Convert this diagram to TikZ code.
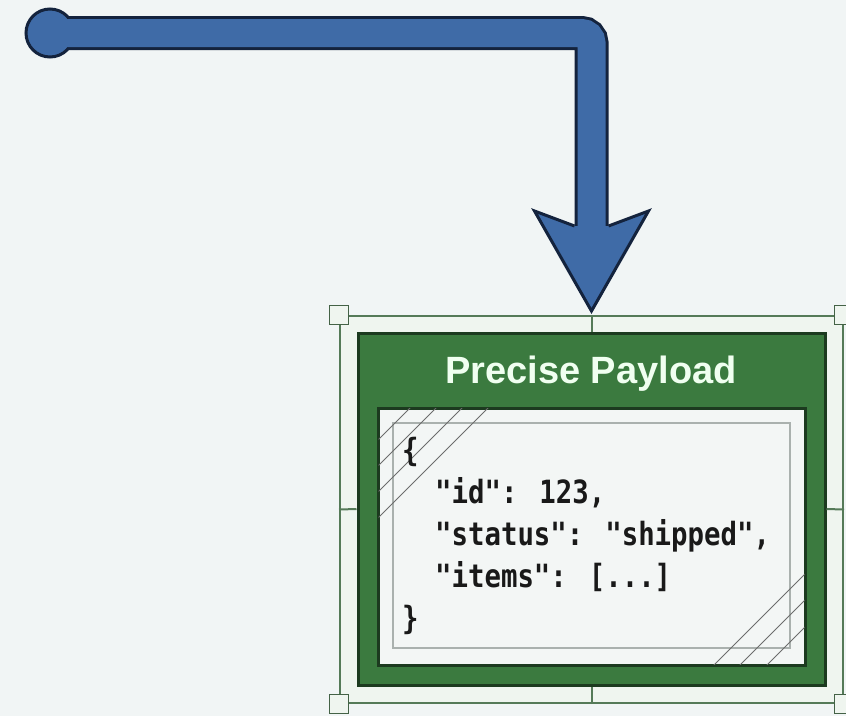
\documentclass[tikz,border=0pt]{standalone}
\usepackage{fontspec}
\setmainfont{Liberation Sans}
\newfontfamily\codefont[FakeStretch=0.855]{DejaVu Sans Mono}
\usepackage{xcolor}
\usetikzlibrary{positioning, calc}

\definecolor{bgcol}{HTML}{F1F5F5}
\definecolor{pipeblue}{HTML}{3F6BA7}
\definecolor{pipenavy}{HTML}{14233D}
\definecolor{boxgreen}{HTML}{3B7A3F}
\definecolor{boxedge}{HTML}{1C3A1F}
\definecolor{selgreen}{HTML}{557A58}
\definecolor{selfill}{HTML}{EFF5EF}
\definecolor{panelfill}{HTML}{F3F6F5}
\definecolor{innergray}{HTML}{AAB1AE}

\newcommand{\ind}{\hphantom{xx}}

\begin{document}
\begin{tikzpicture}[x=1pt, y=-1pt,
  sel/.style={draw=selgreen, line width=2pt, fill=selfill, minimum width=503pt,
              minimum height=387pt, inner sep=0pt},
  handle/.style={draw=selgreen!80!black, fill=selfill, line width=1.8pt,
                 minimum size=19pt, inner sep=0pt},
  selline/.style={draw=selgreen, line width=2pt},
  payload/.style={draw=boxedge, line width=3pt, fill=boxgreen, minimum width=467pt,
                  minimum height=352pt, inner sep=0pt},
  panel/.style={draw=boxedge, line width=3pt, fill=panelfill, minimum width=427pt,
                minimum height=257pt, inner sep=0pt},
  innerbox/.style={draw=innergray, line width=2pt, minimum width=397pt,
                   minimum height=225pt, inner sep=0pt},
  hatch/.style={draw=gray!85!black, line width=0.8pt},
  title/.style={font=\bfseries\fontsize{38}{44}\selectfont, text=white!94!green, inner sep=0pt},
  code/.style={font=\codefont\bfseries\fontsize{32}{42}\selectfont, align=left,
               text=black!90, inner sep=0pt},
  pipe/.style={draw=pipenavy, line width=3pt, double=pipeblue, double distance=28pt,
               rounded corners=10pt},
  tipedge/.style={draw=pipenavy, line width=3pt, line join=miter}
]
\useasboundingbox[fill=bgcol] (0,0) rectangle (846,716);

% selection frame round the payload box
\node[sel] (sel) at (591.5,509.5) {};
\node[payload] (box) at (591.5,509) {};
\foreach \a in {north,south,east,west} \draw[selline] (sel.\a) -- (box.\a);

\node[title, anchor=base] (ttl) at (591,383) {Precise Payload};
\node[panel] (panel) at (591.5,536.5) {};
\node[innerbox] (inner) at (591.5,535.5) {};
\begin{scope}
  \clip ([shift={(2,-2)}]panel.south west) rectangle ([shift={(-2,2)}]panel.north east);
  \foreach \c in {818,844,870,896} \draw[hatch] ({\c-400},400) -- (370,{\c-370});
  \foreach \c in {1379,1405,1432} \draw[hatch] ({\c-680},680) -- (820,{\c-820});
\end{scope}

\node[code, anchor=north west] (json) at (402,437)
  {\{\\ \ind"id": 123,\\ \ind"status": "shipped",\\ \ind"items": [...]\\ \}};

\foreach \a/\n in {north west/nw, north east/ne, south west/sw, south east/se}
  \node[handle] (h\n) at (sel.\a) {};

% the bent arrow
\node[circle, fill=pipeblue, draw=pipenavy, line width=3pt, minimum size=48pt,
      inner sep=0pt] (src) at (50,33) {};
\coordinate (tip) at ([yshift=4pt]sel.north);
\coordinate (tipback) at ([yshift=76pt]tip);
\draw[pipe] ([xshift=17pt]src.center) -| (tipback);
\fill[pipeblue] (tip) -- ++(-57,-100) -- ++(40,15) -- ++(34,0) -- ++(40,-15) -- cycle;
\draw[tipedge] ($(tip)+(-17,-85)$) -- ++(-40,-15) -- (tip) -- ++(57,-100) -- ++(-40,15);
\end{tikzpicture}
\end{document}
